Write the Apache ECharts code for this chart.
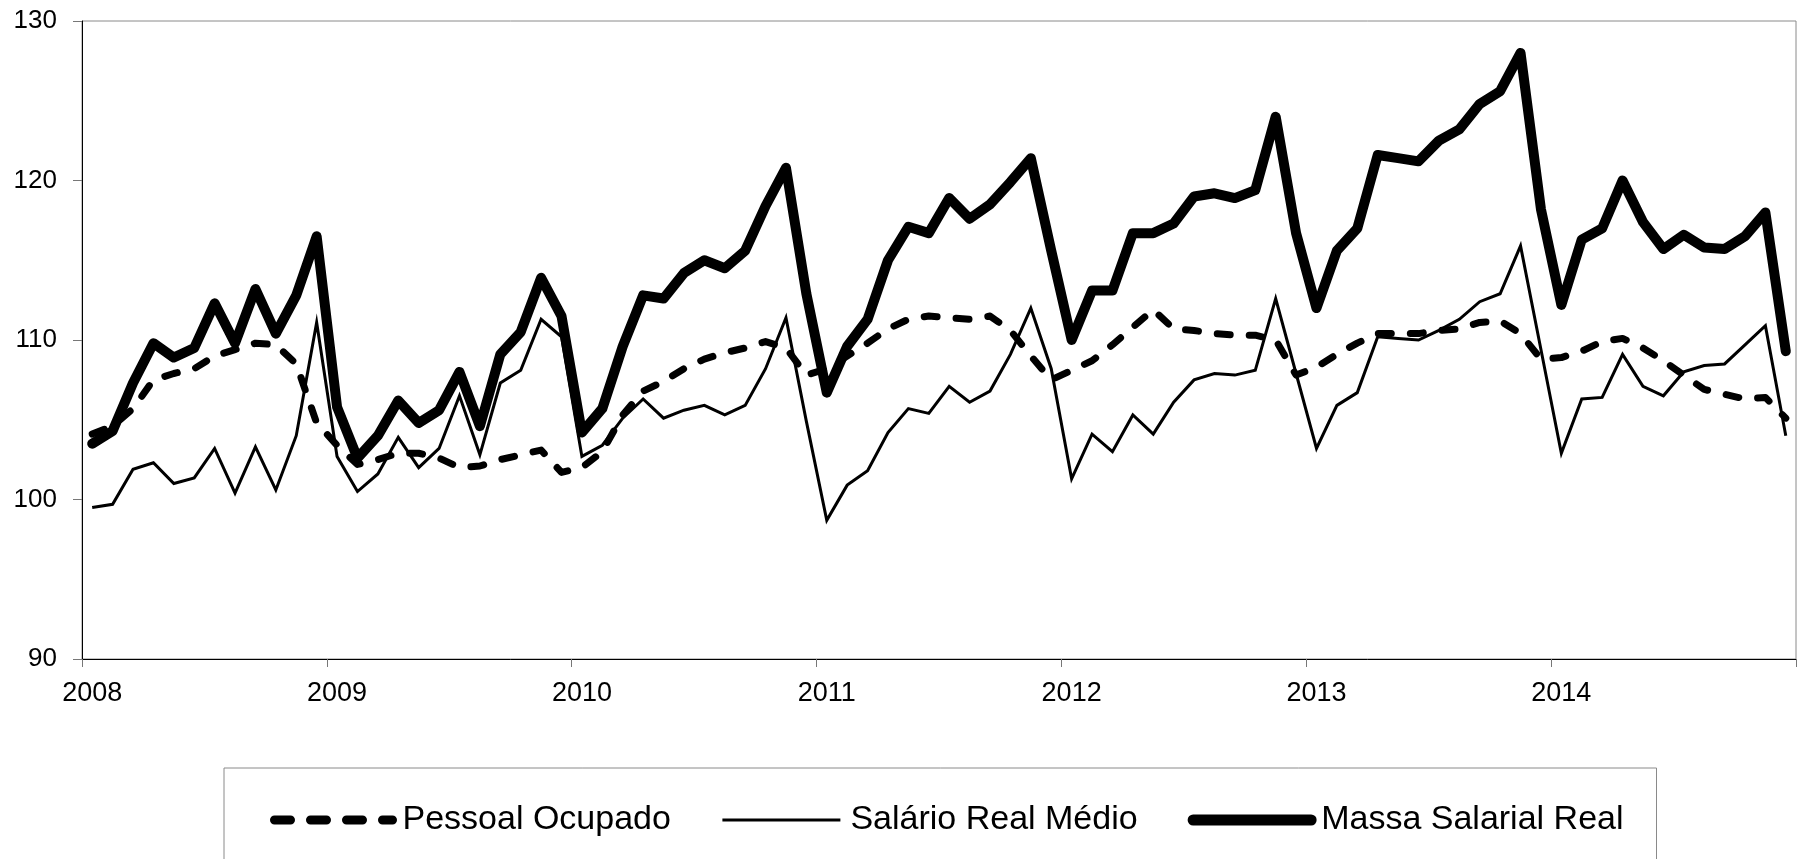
<!DOCTYPE html>
<html>
<head>
<meta charset="utf-8">
<script src="https://cdn.jsdelivr.net/npm/echarts@6/dist/echarts.min.js"></script>
<style>
html,body{margin:0;padding:0;background:#fff;}
#chart{width:1798px;height:859px;}
</style>
</head>
<body>
<div id="chart"></div>
<script>
const years = ['2008','2009','2010','2011','2012','2013','2014'];
const months = ['01','02','03','04','05','06','07','08','09','10','11','12'];
const categories = years.flatMap(y => months.map(m => y + '-' + m));

const seriesNames = ['Pessoal Ocupado', 'Salário Real Médio', 'Massa Salarial Real'];

const pessoal = [
  104.1, 104.6, 105.7, 107.5, 107.9, 108.2, 109.0, 109.4, 109.8, 109.7, 108.5, 104.8,
  103.4, 102.2, 102.5, 102.9, 102.9, 102.6, 102.0, 102.1, 102.5, 102.8, 103.1, 101.7,
  102.0, 103.0, 105.3, 106.8, 107.4, 108.2, 108.8, 109.2, 109.5, 109.9, 109.5, 107.8,
  108.2, 109.0, 109.8, 110.7, 111.3, 111.5, 111.4, 111.3, 111.5, 110.6, 109.0, 107.5,
  108.1, 108.7, 109.7, 110.8, 111.9, 110.7, 110.6, 110.4, 110.3, 110.3, 110.0, 107.8,
  108.3, 109.1, 109.8, 110.4, 110.4, 110.4, 110.6, 110.7, 111.1, 111.2, 110.4, 108.8,
  108.9, 109.3, 109.9, 110.1, 109.5, 108.7, 107.8, 106.9, 106.6, 106.3, 106.4, 105.1
];

const salario = [
  99.5, 99.7, 101.9, 102.3, 101.0, 101.35, 103.2, 100.4, 103.3, 100.6, 104.0, 111.1,
  102.7, 100.5, 101.6, 103.9, 102.0, 103.2, 106.5, 102.8, 107.3, 108.1, 111.3, 110.2,
  102.7, 103.4, 105.1, 106.3, 105.1, 105.6, 105.9, 105.3, 105.9, 108.2, 111.4, 104.9,
  98.7, 100.9, 101.8, 104.2, 105.7, 105.4, 107.1, 106.1, 106.8, 109.1, 112.0, 108.2,
  101.3, 104.1, 103.0, 105.3, 104.1, 106.1, 107.5, 107.9, 107.8, 108.1, 112.6, 107.9,
  103.2, 105.9, 106.7, 110.2, 110.1, 110.0, 110.6, 111.3, 112.4, 112.9, 115.9, 109.4,
  102.9, 106.3, 106.4, 109.1, 107.1, 106.5, 108.0, 108.4, 108.5, 109.7, 110.9, 104.0
];

const massa = [
  103.5, 104.3, 107.3, 109.8, 108.9, 109.5, 112.3, 109.8, 113.2, 110.4, 112.8, 116.5,
  105.8, 102.6, 104.0, 106.2, 104.8, 105.6, 108.0, 104.6, 109.1, 110.5, 113.9, 111.5,
  104.2, 105.7, 109.6, 112.8, 112.6, 114.2, 115.0, 114.5, 115.6, 118.4, 120.8, 112.9,
  106.7, 109.6, 111.3, 115.0, 117.1, 116.7, 118.9, 117.6, 118.5, 119.9, 121.4, 115.6,
  110.0, 113.1, 113.1, 116.7, 116.7, 117.3, 119.0, 119.2, 118.9, 119.4, 124.0, 116.7,
  112.0, 115.6, 117.0, 121.6, 121.4, 121.2, 122.5, 123.2, 124.8, 125.6, 128.0, 118.2,
  112.2, 116.3, 117.0, 120.0, 117.4, 115.7, 116.6, 115.8, 115.7, 116.5, 118.0, 109.3
];

const yMin = 90, yMax = 130, yStep = 10;
const FONT = "'Liberation Sans', Arial, Helvetica, sans-serif";

const chart = echarts.init(document.getElementById('chart'), null, {renderer: 'canvas'});
chart.setOption({
  animation: false,
  backgroundColor: '#fff',
  grid: {
    left: 82, top: 21, width: 1714, bottom: 200,
    show: true, borderColor: '#8a8a8a', borderWidth: 1, backgroundColor: 'transparent'
  },
  legend: {
    left: 224, top: 768,
    orient: 'horizontal',
    padding: [35, 33, 80, 46],
    borderColor: '#8a8a8a', borderWidth: 1,
    itemWidth: 118, itemHeight: 32, itemGap: 50,
    itemStyle: { opacity: 0 },
    textStyle: { fontFamily: FONT, fontSize: 34, color: '#000', padding: [0, 0, 0, 5] },
    data: [
      { name: seriesNames[0], lineStyle: { width: 9, type: [16, 20], cap: 'round' } },
      { name: seriesNames[1], lineStyle: { width: 3 } },
      { name: seriesNames[2], lineStyle: { width: 11, cap: 'round' } }
    ]
  },
  xAxis: {
    type: 'category',
    data: categories,
    boundaryGap: true,
    axisLine: { show: true, lineStyle: { color: '#000', width: 1 } },
    axisTick: { show: true, interval: 11, length: 8, lineStyle: { color: '#777' } },
    axisLabel: {
      interval: 11, margin: 21, color: '#000', fontFamily: FONT, fontSize: 27,
      formatter: v => v.slice(0, 4)
    },
    splitLine: { show: false }
  },
  yAxis: {
    type: 'value',
    min: yMin, max: yMax, interval: yStep,
    axisLine: { show: true, lineStyle: { color: '#000', width: 1 } },
    axisTick: { show: true, length: 9, lineStyle: { color: '#777' } },
    axisLabel: { margin: 25, color: '#000', fontFamily: FONT, fontSize: 26 },
    splitLine: { show: false }
  },
  series: [
    {
      name: seriesNames[0], type: 'line', data: pessoal, symbol: 'none',
      lineStyle: { color: '#000', width: 7, type: [13, 19], cap: 'round', join: 'round' },
      itemStyle: { color: '#000' }
    },
    {
      name: seriesNames[1], type: 'line', data: salario, symbol: 'none',
      lineStyle: { color: '#000', width: 3, join: 'miter' },
      itemStyle: { color: '#000' }
    },
    {
      name: seriesNames[2], type: 'line', data: massa, symbol: 'none',
      lineStyle: { color: '#000', width: 10, cap: 'round', join: 'round' },
      itemStyle: { color: '#000' }
    }
  ]
});
</script>
</body>
</html>
